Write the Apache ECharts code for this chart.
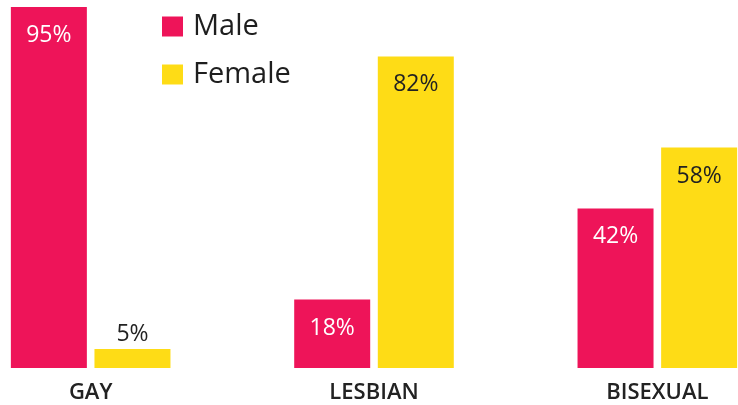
<!DOCTYPE html>
<html>
<head>
<meta charset="utf-8">
<title>Gay Lesbian Bisexual</title>
<script src="https://cdn.jsdelivr.net/npm/echarts@6/dist/echarts.min.js"></script>
<style>
body{margin:0;background:#fff;}
#main{width:738px;height:405px;}
</style>
</head>
<body>
<div id="main"></div>
<script>
// data
var categories = ['GAY', 'LESBIAN', 'BISEXUAL'];
var maleValues = [95, 18, 42];
var femaleValues = [5, 82, 58];

var myChart = echarts.init(document.getElementById('main'));

function pct(p){ return p.value + '%'; }

var option = {
	animation: false,
	textStyle: { fontFamily: 'Open Sans' },
	legend: {
		orient: 'vertical',
		left: 157,
		top: 7,
		itemWidth: 21,
		itemHeight: 20,
		itemGap: 19,
		icon: 'rect',
		textStyle: { fontSize: 29, fontWeight: 500, color: '#1e1e1e', padding: [0, 0, 0, 5] },
		data: ['Male', 'Female']
	},
	grid: { left: -51, width: 850, top: -12, bottom: 37, outerBoundsMode: 'none', containLabel: false },
	xAxis: {
		type: 'category',
		data: categories,
		axisLine: { show: false },
		axisTick: { show: false },
		axisLabel: { fontSize: 22, fontWeight: 600, color: '#222', margin: 14 }
	},
	yAxis: {
		type: 'value',
		min: 0,
		max: 100,
		show: false
	},
	series: [{
		name: 'Male',
		type: 'bar',
		barWidth: 76,
		barGap: '10%',
		itemStyle: { color: '#EE1459' },
		label: {
			show: true,
			position: 'insideTop',
			distance: 17,
			fontSize: 23,
			color: '#fff',
			formatter: pct
		},
		data: maleValues
	}, {
		name: 'Female',
		type: 'bar',
		barWidth: 76,
		itemStyle: { color: '#FEDC16' },
		label: {
			show: true,
			position: 'insideTop',
			distance: 17,
			fontSize: 23,
			color: '#222',
			formatter: pct
		},
		data: femaleValues.map(function(v){
			// small bar: label sits above it
			if (v < 10) return { value: v, label: { position: 'top', distance: 3 } };
			return v;
		})
	}]
};
myChart.setOption(option);
</script>
</body>
</html>
